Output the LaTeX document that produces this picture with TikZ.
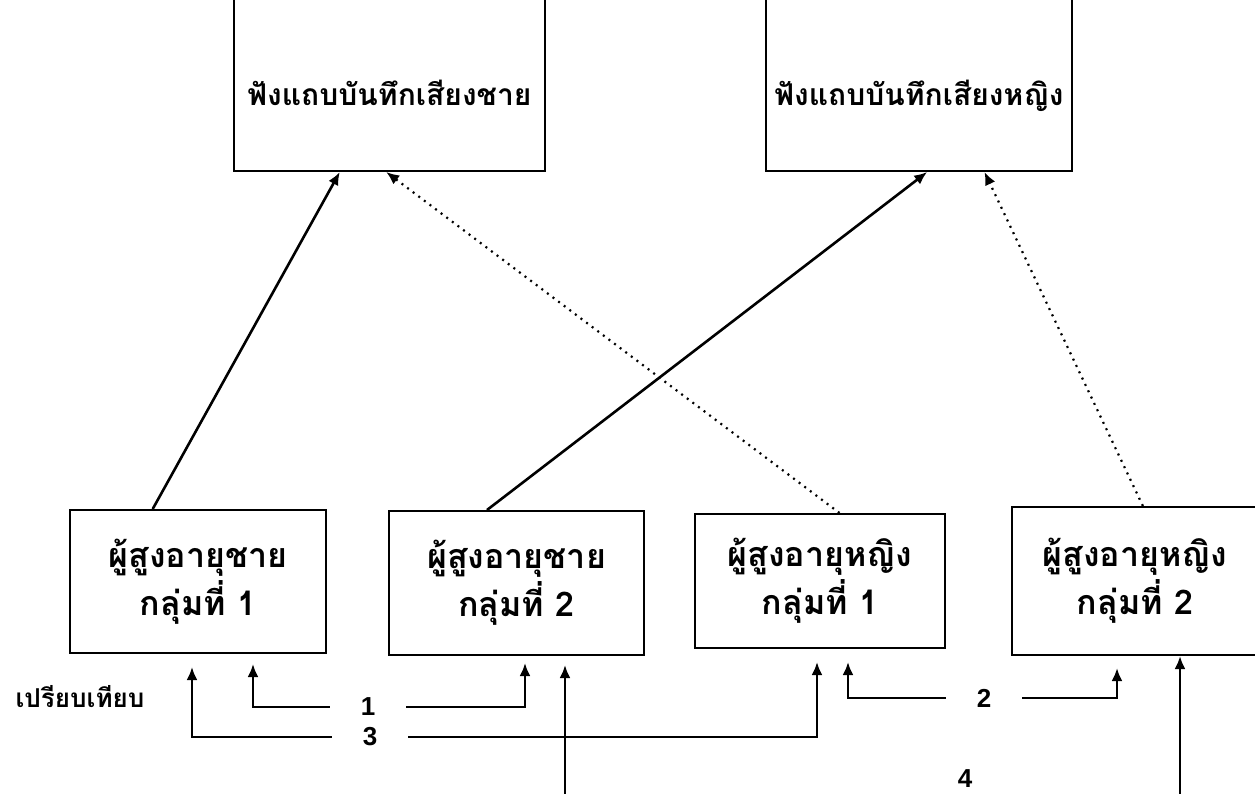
\documentclass[tikz,border=0pt]{standalone}
\usepackage{fontspec}
\newfontfamily\thaifont[Script=Thai]{Loma}
\newfontfamily\numfont{Liberation Sans}
\usetikzlibrary{arrows.meta}
\begin{document}
\begin{tikzpicture}[x=1pt,y=-1pt,
  box/.style={draw, line width=2pt, align=center, font=\thaifont\bfseries\fontsize{34}{48}\selectfont},
  tapebox/.style={box, font=\thaifont\bfseries\fontsize{30}{30}\selectfont, text height=54pt, text depth=0pt, minimum height=185pt},
  arr/.style={line width=2.6pt, -{Latex[length=13pt,width=11pt]}},
  dot/.style={line width=2.2pt, dash pattern=on 2pt off 5pt, -{Latex[length=13pt,width=11pt]}},
  num/.style={font=\numfont\bfseries\fontsize{26}{26}\selectfont, inner xsep=31pt}]
\useasboundingbox (0,0) rectangle (1255,794);
% listening boxes
\node[tapebox, minimum width=311pt] (tapeM) at (389.5,78.5) {ฟังแถบบันทึกเสียงชาย};
\node[tapebox, minimum width=306pt] (tapeF) at (919,78.5) {ฟังแถบบันทึกเสียงหญิง};
% listener groups
\node[box, minimum width=256pt, minimum height=143pt] (oldM1) at (198,581.5) {ผู้สูงอายุชาย\\กลุ่มที่ 1};
\node[box, minimum width=255pt, minimum height=144pt] (oldM2) at (516.5,583) {ผู้สูงอายุชาย\\กลุ่มที่ 2};
\node[box, minimum width=250pt, minimum height=134pt] (oldF1) at (820,581) {ผู้สูงอายุหญิง\\กลุ่มที่ 1};
\node[box, minimum width=246pt, minimum height=148pt] (oldF2) at (1135,581) {ผู้สูงอายุหญิง\\กลุ่มที่ 2};
\draw[arr](oldM1.122.75) -- (tapeM.242.77);
\draw[dot](oldF1.74.96) -- (tapeM.268.3);
\draw[arr](oldM2.112.3) -- (tapeF.275.3);
\draw[dot](oldF2.84) -- (tapeF.305.2);
% comparisons
\node[font=\thaifont\bfseries\fontsize{26}{26}\selectfont] (cmpLbl) at (80,697) {เปรียบเทียบ};
\node[num] (cmp1) at (368,707) {1};
\node[num] (cmp3) at (370,737) {3};
\node[num] (cmp2) at (984,698) {2};
\node[num, inner sep=0pt] (cmp4) at (965,779) {4};
\coordinate (e1a) at (253,664);
\coordinate (e1b) at (525,663);
\coordinate (e3a) at (192,667);
\coordinate (e3b) at (817,662);
\coordinate (e2a) at (848,662);
\coordinate (e2b) at (1117,668);
\coordinate (e4a) at (565,800);
\coordinate (e4b) at (1180,800);
\draw[arr](cmp1.west) -| (e1a);
\draw[arr](cmp1.east) -| (e1b);
\draw[arr](cmp3.west) -| (e3a);
\draw[arr](cmp3.east) -| (e3b);
\draw[arr](cmp2.west) -| (e2a);
\draw[arr](cmp2.east) -| (e2b);
\draw[arr](e4a) -- ([yshift=-9pt]e4a |- oldM2.south);
\draw[arr](e4b) -- (e4b |- oldF2.south);
\end{tikzpicture}
\end{document}
